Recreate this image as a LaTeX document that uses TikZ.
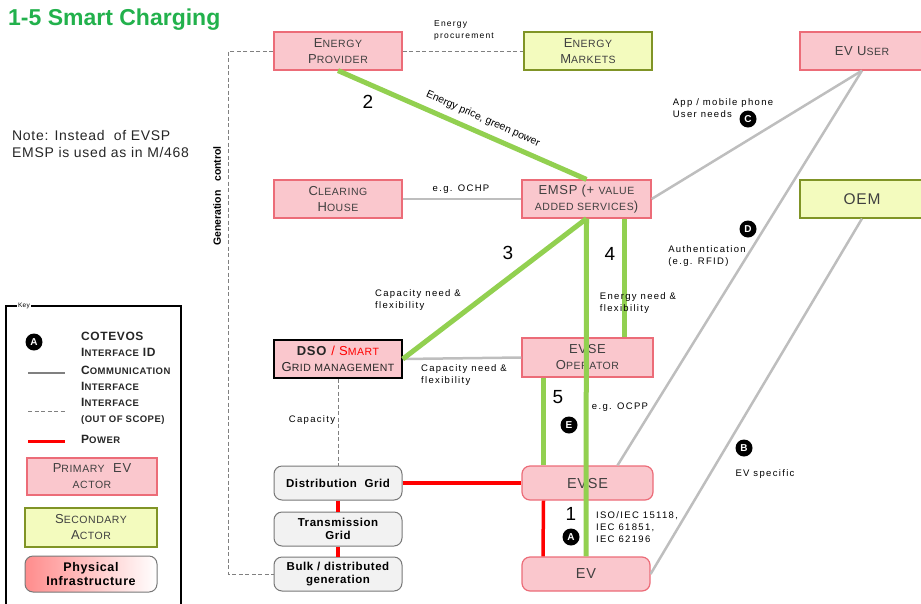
\documentclass[tikz,border=0pt]{standalone}
\usepackage{fontspec}
\setmainfont{Liberation Sans}[LetterSpace=5]
\newfontfamily\titlefont{Liberation Sans}
\newfontfamily\labelfont{Liberation Sans}[LetterSpace=14]
\usepackage{tikz}
\usetikzlibrary{positioning}

\definecolor{actorfill}{RGB}{250,199,205}
\definecolor{actorline}{RGB}{236,108,120}
\definecolor{secfill}{RGB}{243,251,190}
\definecolor{secline}{RGB}{128,148,38}
\definecolor{infrafill}{RGB}{242,242,242}
\definecolor{infraline}{RGB}{120,120,120}
\definecolor{linkgreen}{RGB}{146,208,80}
\definecolor{linkgray}{RGB}{190,190,190}
\definecolor{titlegreen}{RGB}{34,177,76}
\definecolor{boxtext}{RGB}{64,64,64}

\newcommand{\lowcap}[1]{{\fontsize{10.5}{10.5}\selectfont #1}}
\newcommand{\keycap}[1]{{\fontsize{9.5}{9.5}\selectfont #1}}

\tikzstyle{primary} = [rectangle, minimum width=128pt, minimum height=38pt, text centered, align=center, draw=actorline, line width=1.2pt, fill=actorfill, text=boxtext, font=\fontsize{13}{16}\selectfont]
\tikzstyle{secondary} = [rectangle, minimum width=128pt, minimum height=38pt, text centered, align=center, draw=secline, line width=1.2pt, fill=secfill, text=boxtext, font=\fontsize{13}{16}\selectfont]
\tikzstyle{device} = [primary, rounded corners=8pt, minimum height=34pt]
\tikzstyle{infra} = [rectangle, rounded corners=8pt, minimum width=128pt, minimum height=34pt, align=center, draw=infraline, line width=1pt, fill=infrafill, font=\bfseries\fontsize{11.5}{13.5}\selectfont]
\tikzstyle{greenlink} = [line width=5pt, draw=linkgreen]
\tikzstyle{comlink} = [line width=2.5pt, draw=linkgray]
\tikzstyle{powerlink} = [line width=3.5pt, draw=red]
\tikzstyle{outscope} = [line width=0.9pt, draw=gray, dash pattern=on 4pt off 2.5pt]
\tikzstyle{ifid} = [circle, fill=black, text=white, inner sep=0pt, minimum size=17pt, font=\titlefont\bfseries\fontsize{10}{10}\selectfont]
\tikzstyle{lbl} = [font=\labelfont\fontsize{9.5}{12}\selectfont, align=left, inner sep=0pt]
\tikzstyle{num} = [font=\titlefont\fontsize{19}{19}\selectfont, inner sep=0pt]
\tikzstyle{keytext} = [font=\bfseries\fontsize{12}{16}\selectfont, align=left, anchor=west, inner sep=0pt, text=black!85]

\begin{document}
\begin{tikzpicture}[x=1pt, y=-1pt]
\useasboundingbox (0,0) rectangle (921,603);

% Title and note
\node (title) [anchor=west, inner sep=0pt, font=\titlefont\bfseries\fontsize{23}{23}\selectfont, text=titlegreen] at (8,20) {1-5 Smart Charging};
\node (note) [anchor=west, align=left, inner sep=0pt, font=\fontsize{14}{17}\selectfont, text=black!85] at (12,144) {Note: Instead\ \ of EVSP\\EMSP is used as in M/468};

% Actors
\node (provider) [primary] at (338,51) {E\lowcap{NERGY}\\P\lowcap{ROVIDER}};
\node (markets) [secondary] at (588,51) {E\lowcap{NERGY}\\M\lowcap{ARKETS}};
\node (evuser) [primary, minimum width=124pt] at (862,51) {EV U\lowcap{SER}};
\node (clearing) [primary] at (338,199) {C\lowcap{LEARING}\\H\lowcap{OUSE}};
\node (emsp) [primary, minimum width=129pt] at (586.5,199) {EMSP (+ \lowcap{VALUE}\\\lowcap{ADDED SERVICES})};
\node (oem) [secondary, minimum width=124pt, font=\fontsize{15.5}{16}\selectfont] at (862,199) {OEM};
\node (dso) [primary, draw=black, line width=1.5pt, text=black!85] at (338,359) {\textbf{DSO} {\color{red}/ S\lowcap{MART}}\\G\lowcap{RID MANAGEMENT}};
\node (evseop) [primary, minimum width=131pt, minimum height=39pt] at (587.5,357.5) {EVSE\\O\lowcap{PERATOR}};
\node (evse) [device, minimum width=131pt, font=\fontsize{14.5}{16}\selectfont] at (587.5,483) {EVSE};
\node (ev) [device, font=\fontsize{14.5}{16}\selectfont] at (586,574) {EV};

% Physical infrastructure
\node (distgrid) [infra] at (338,483) {Distribution\ \ Grid};
\node (transgrid) [infra] at (338,529) {Transmission\\Grid};
\node (bulk) [infra] at (338,574) {Bulk / distributed\\generation};

% Out of scope interfaces
\draw [outscope] (provider.west) -- ++(-45,0) |- (bulk.west);
\node (lblgen) [lbl, rotate=90, font=\titlefont\bfseries\fontsize{10.5}{10.5}\selectfont] at (217,196) {Generation\ \ \ control};
\draw [outscope] (provider.east) -- (markets.west);
\node (lblproc) [lbl, font=\labelfont\fontsize{8.5}{12}\selectfont] at (464,30) {Energy\\procurement};
\draw [outscope] (dso.south) -- (distgrid.north);
\node (lblcap) [lbl] at (312,420) {Capacity};

% Communication interfaces
\draw [comlink] (clearing.east) -- (emsp.west);
\node (lblochp) [lbl] at (461,189) {e.g. OCHP};
\draw [comlink] (dso.east) -- (evseop.west);
\node (lbldsoop) [lbl] at (464,375) {Capacity need \&\\flexibility};
\draw [comlink] (emsp.east) -- (evuser.south);
\node (lblapp) [lbl] at (723,108) {App / mobile phone\\User needs};
\node (ifc) [ifid] at (748,119) {C};
\draw [comlink] (evuser.south) -- ([xshift=30]evse.north);
\node (ifd) [ifid] at (748,229) {D};
\node (lblauth) [lbl] at (707,256) {Authentication\\(e.g. RFID)};
\draw [comlink] (oem.south) -- (ev.east);
\node (ifb) [ifid] at (744,448) {B};
\node (lblevspec) [lbl] at (765,474) {EV specific};

% Smart charging links
\draw [greenlink] (provider.south) -- (emsp.north);
\node (lblprice) [lbl, rotate=-24, font=\titlefont\fontsize{10.5}{12}\selectfont] at (483,119) {Energy price, green power};
\node (num2) [num] at (368,102) {2};
\draw [greenlink] (dso.east) -- (emsp.south);
\node (num3) [num] at (508,253) {3};
\node (lbldsoemsp) [lbl] at (418,300) {Capacity need \&\\flexibility};
\draw [greenlink] ([xshift=38]emsp.south) -- ([xshift=37]evseop.north);
\node (num4) [num] at (610,254) {4};
\node (lblenergy) [lbl] at (638,303) {Energy need \&\\flexibility};
\draw [greenlink] (emsp.south) -- (ev.north);
\draw [greenlink] ([xshift=-44]evseop.south) -- ([xshift=-44]evse.north);
\node (num5) [num] at (558,397) {5};
\node (ife) [ifid] at (569,425) {E};
\node (lblocpp) [lbl] at (620,407) {e.g. OCPP};

% Power
\draw [powerlink] (distgrid.east) -- (evse.west);
\draw [powerlink] (distgrid.south) -- (transgrid.north);
\draw [powerlink] (transgrid.south) -- (bulk.north);
\draw [powerlink] ([xshift=-44]evse.south) -- ([xshift=-43]ev.north);
\node (num1) [num] at (571,514) {1};
\node (ifa) [ifid] at (571,537) {A};
\node (lbliso) [lbl] at (637,527) {ISO/IEC 15118,\\IEC 61851,\\IEC 62196};

% Key
\node (keyframe) [draw=black, line width=1.4pt, minimum width=175pt, minimum height=310pt] at (93.5,461) {};
\node (keylabel) [fill=white, inner sep=1.5pt, font=\fontsize{6.5}{7}\selectfont] at (24,306) {Key};
\node (keyid) [ifid] at (34,342) {A};
\node (keyidtext) [keytext] at (81,344.5) {COTEVOS\\I\keycap{NTERFACE} ID};
\coordinate (keycomA) at (28,373);
\coordinate (keycomB) at (65,373);
\draw [comlink, draw=gray] (keycomA) -- (keycomB);
\node (keycomtext) [keytext, right=16pt of keycomB, yshift=-5.5pt] {C\keycap{OMMUNICATION}\\I\keycap{NTERFACE}};
\coordinate (keyoutA) at (28,411);
\coordinate (keyoutB) at (65,411);
\draw [outscope, line width=0.6pt] (keyoutA) -- (keyoutB);
\node (keyouttext) [keytext, right=16pt of keyoutB] {I\keycap{NTERFACE}\\\keycap{(OUT OF SCOPE)}};
\coordinate (keypowA) at (28,441);
\coordinate (keypowB) at (65,441);
\draw [powerlink, line width=3pt] (keypowA) -- (keypowB);
\node (keypowtext) [keytext, right=16pt of keypowB, yshift=1.5pt] {P\keycap{OWER}};
\node (keyprimary) [primary, minimum width=130pt, minimum height=37pt] at (92,476.5) {P\lowcap{RIMARY}\ \ EV\\\lowcap{ACTOR}};
\node (keysecondary) [secondary, minimum width=132pt, minimum height=39pt] at (91,527.5) {S\lowcap{ECONDARY}\\A\lowcap{CTOR}};
\node (keyinfra) [infra, minimum width=132pt, minimum height=36pt, left color=red!45, right color=white, font=\bfseries\fontsize{12.5}{14}\selectfont] at (91,574) {Physical\\Infrastructure};

\end{tikzpicture}
\end{document}
